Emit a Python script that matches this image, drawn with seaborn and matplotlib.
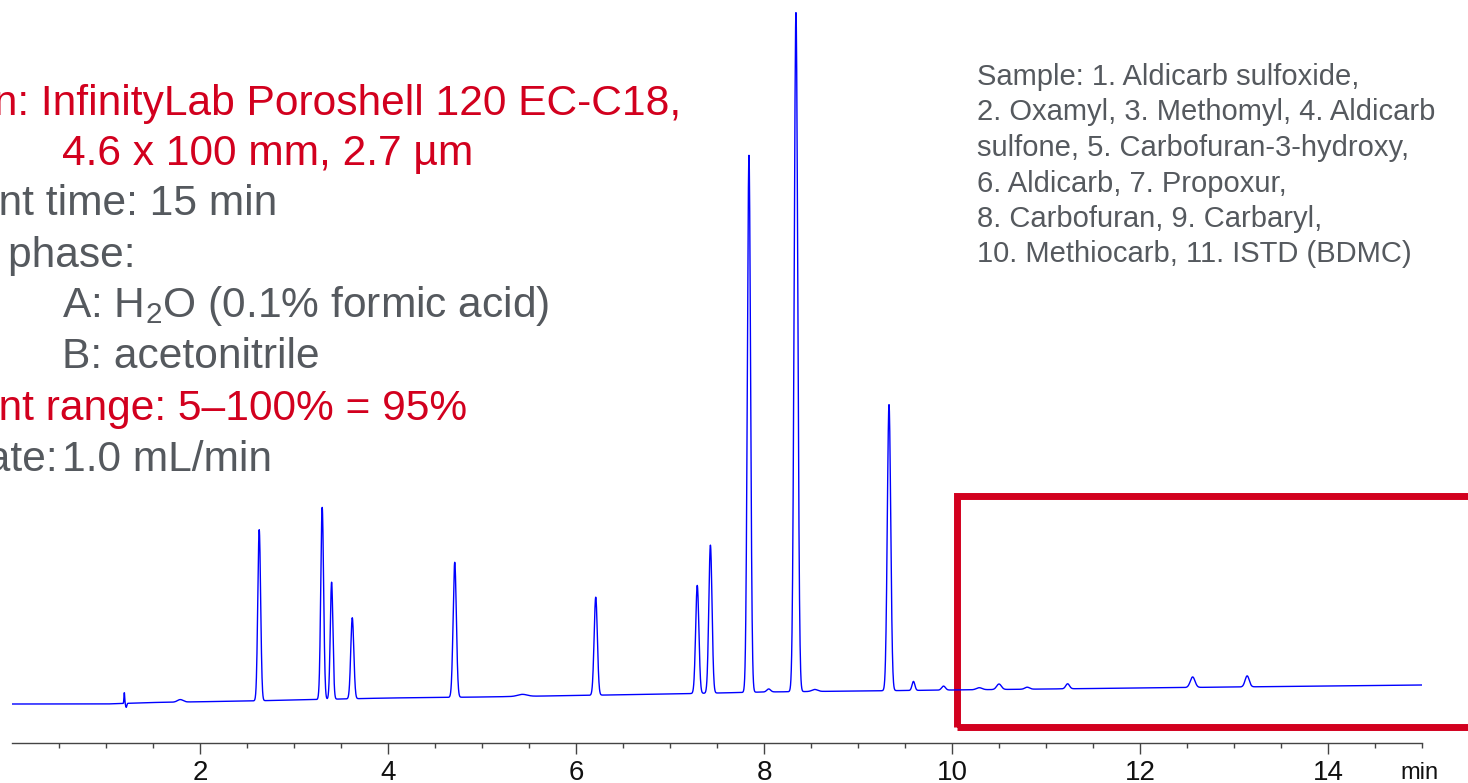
import numpy as np
import pandas as pd
import matplotlib
matplotlib.use("Agg")
import matplotlib.pyplot as plt
from matplotlib.patches import Rectangle
from matplotlib.ticker import FixedLocator
import seaborn as sns

# --- peak table: retention time (min), height above baseline, sigma (min) ---
peak_time = [1.195, 1.215, 1.79, 2.63, 3.30, 3.40, 3.62, 4.71, 5.43, 6.21, 7.29, 7.43,
             7.84, 8.05, 8.34, 8.54, 9.33, 9.59, 9.91, 10.29, 10.50, 10.80, 11.23, 12.56, 13.14]
peak_height = [11, -4, 2.5, 171, 192, 117, 81, 135, 2, 98, 108, 148,
               537, 3, 679, 2, 286, 9, 4, 2, 5.5, 2, 5, 10.5, 11]
peak_sigma = [0.004, 0.006, 0.03, 0.015, 0.015, 0.014, 0.016, 0.017, 0.05, 0.017, 0.017, 0.017,
              0.017, 0.02, 0.019, 0.03, 0.018, 0.015, 0.02, 0.03, 0.025, 0.025, 0.02, 0.025, 0.022]

# baseline drift (same units)
base_time = [0, 1.0, 1.5, 2.5, 3.0, 4.0, 5.0, 6.0, 7.0, 8.0, 9.0, 10.0, 11.0, 12.0, 13.0, 14.0, 15.0]
base_level = [0, 0, 1.5, 3, 4, 6, 7, 8.5, 10, 12, 13, 14, 15, 16, 17, 18, 19]

tick_major = [2, 4, 6, 8, 10, 12, 14]
tick_minor = [0.5, 1, 1.5, 2.5, 3, 3.5, 4.5, 5, 5.5, 6.5, 7, 7.5, 8.5, 9, 9.5,
              10.5, 11, 11.5, 12.5, 13, 13.5, 14.5, 15]

left_lines = [
    ("Column: InfinityLab Poroshell 120 EC-C18,", "red", -129, 115),
    ("4.6 x 100 mm, 2.7 µm", "red", 62, 165),
    ("Gradient time: 15 min", "gray", -129, 215),
    ("Mobile phase:", "gray", -129, 267),
    ("A: H$_2$O (0.1% formic acid)", "gray", 62, 317),
    ("B: acetonitrile", "gray", 62, 368),
    ("Gradient range: 5\u2013100% = 95%", "red", -129, 420),
    ("Flow rate:", "gray", -129, 471),
    ("1.0 mL/min", "gray", 62, 471),
]
sample_lines = [
    "Sample: 1. Aldicarb sulfoxide,",
    "2. Oxamyl, 3. Methomyl, 4. Aldicarb",
    "sulfone, 5. Carbofuran-3-hydroxy,",
    "6. Aldicarb, 7. Propoxur,",
    "8. Carbofuran, 9. Carbaryl,",
    "10. Methiocarb, 11. ISTD (BDMC)",
]

RED = "#d2001e"
GRAY = "#55595e"

# --- build trace ---
t = np.arange(0, 15.0001, 0.002)
signal = np.interp(t, base_time, base_level)
for rt, h, s in zip(peak_time, peak_height, peak_sigma):
    signal = signal + h * np.exp(-0.5 * ((t - rt) / s) ** 2)
trace = pd.DataFrame({"time": t, "signal": signal})

sns.set_theme(style="white")
plt.rcParams["font.family"] = ["Liberation Sans", "DejaVu Sans"]
plt.rcParams["mathtext.default"] = "regular"

W, H = 1468, 783
fig = plt.figure(figsize=(W / 100, H / 100), dpi=100)
fig.patch.set_facecolor("white")
ax = fig.add_axes([12 / W, 1 - 743 / H, 1410 / W, 743 / H])
ax.set_facecolor("none")

sns.lineplot(data=trace, x="time", y="signal", ax=ax, color="#0000ff",
             linewidth=1.0, estimator=None, sort=False)

ax.set_xlim(0, 15)
ax.set_ylim(-39, 704)
ax.set_xlabel("")
ax.set_ylabel("")
ax.set_yticks([])
for side in ["left", "top", "right"]:
    ax.spines[side].set_visible(False)
ax.spines["bottom"].set_color("#444444")
ax.spines["bottom"].set_linewidth(1.0)
ax.xaxis.set_major_locator(FixedLocator(tick_major))
ax.xaxis.set_minor_locator(FixedLocator(tick_minor))
ax.set_xticklabels([str(v) for v in tick_major])
ax.tick_params(axis="x", which="major", length=8, width=1.0, color="#444444",
               labelsize=20, labelcolor="#111111", pad=4, direction="out", bottom=True)
ax.tick_params(axis="x", which="minor", length=3.5, width=1.0, color="#444444",
               direction="out", bottom=True)

# highlight box on the late part of the run
rect = Rectangle((10.05, -23), 7, 231.5, fill=False, edgecolor=RED,
                 linewidth=5.0, clip_on=False)
ax.add_patch(rect)

fig.text(1419 / W, 1 - 779 / H, "min", ha="center", va="baseline",
         fontsize=17, color="#111111")

for txt, col, x, y in left_lines:
    fig.text(x / W, 1 - y / H, txt, ha="left", va="baseline", fontsize=30.6,
             color=RED if col == "red" else GRAY)

for i, txt in enumerate(sample_lines):
    fig.text(977 / W, 1 - (85 + i * 35.5) / H, txt, ha="left", va="baseline",
             fontsize=21, color=GRAY)

fig.savefig("out.png", dpi=100)
